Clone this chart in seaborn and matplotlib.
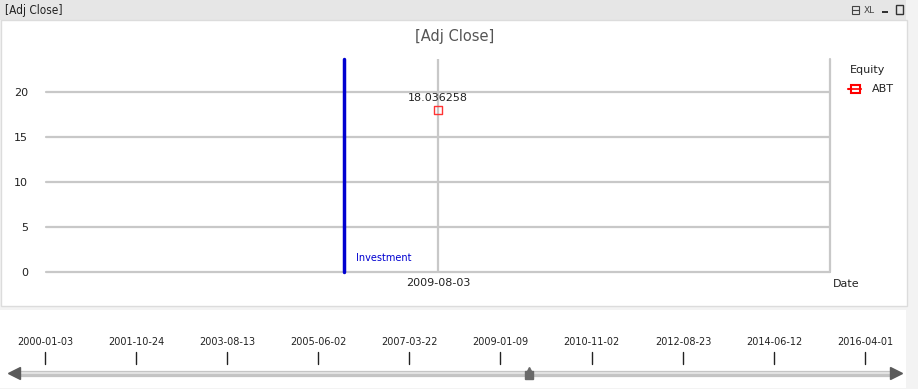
import matplotlib
matplotlib.use("Agg")
import matplotlib.pyplot as plt
import matplotlib.dates as mdates
from matplotlib.patches import Rectangle
import seaborn as sns
import pandas as pd
import numpy as np

# ---- data ----
dates = ["2009-08-03"]
adj_close = [18.036258]
equity = ["ABT"]
investment_label = "Investment"
y_ticks = [0, 5, 10, 15, 20]
slider_ticks = ["2000-01-03", "2001-10-24", "2003-08-13", "2005-06-02", "2007-03-22",
                "2009-01-09", "2010-11-02", "2012-08-23", "2014-06-12", "2016-04-01"]

sns.set_theme(style="white")
plt.rcParams['font.family'] = ['DejaVu Sans']

W, H = 918, 389
fig = plt.figure(figsize=(W / 100, H / 100), dpi=100)
fig.patch.set_facecolor("#f3f3f3")

def fx(px):
    return px / W

def fy(py):
    return 1 - py / H

# background panels (drawn behind axes)
bg = fig.add_axes([0, 0, 1, 1], zorder=-10)
bg.set_xlim(0, W)
bg.set_ylim(H, 0)
bg.axis("off")
bg.add_patch(Rectangle((0, 0), 906, 20, facecolor="#e6e6e6", edgecolor="none"))
bg.add_patch(Rectangle((0.5, 20), 906, 286, facecolor="white", edgecolor="#dcdcdc", lw=1))
bg.add_patch(Rectangle((0, 310), 906, 78, facecolor="white", edgecolor="none"))
bg.text(5, 10, "[Adj Close]", fontsize=8.5, color="#222222", va="center", ha="left",
        fontstretch="condensed")
# window icons
bg.add_patch(Rectangle((852, 6), 7, 8, facecolor="none", edgecolor="#444444", lw=0.8))
bg.plot([852, 859], [10, 10], color="#444444", lw=0.8)
bg.text(864, 10, "XL", fontsize=6.5, color="#444444", va="center", ha="left")
bg.add_patch(Rectangle((882, 11), 6, 2, facecolor="#333333", edgecolor="none"))
bg.add_patch(Rectangle((896, 5), 7, 9, facecolor="none", edgecolor="#333333", lw=1))
bg.text(455, 36, "[Adj Close]", fontsize=10.5, color="#555555", ha="center", va="center")

# legend / labels
bg.text(846, 284, "Date", fontsize=8, color="#222222", ha="center", va="center")
bg.text(850, 70, "Equity", fontsize=8, color="#222222", ha="left", va="center")
bg.plot([848, 861], [89, 89], color="red", lw=1.5)
bg.add_patch(Rectangle((851, 85), 9, 8, facecolor="white", edgecolor="red", lw=1.5, zorder=3))
bg.plot([851, 860], [89, 89], color="red", lw=1.2, zorder=4)
bg.text(872, 89, equity[0], fontsize=8, color="#222222", ha="left", va="center")

# ---- main axes ----
left, right, top, bottom = 46, 830, 59, 272
ax = fig.add_axes([fx(left), fy(bottom), fx(right - left), (bottom - top) / H], zorder=2)
ax.set_facecolor("none")
ymax = 23.67
df = pd.DataFrame({"Date": dates, "Adj Close": adj_close, "Equity": equity})

for t in y_ticks:
    ax.axhline(t, color="#c8c8c8", lw=1.6, zorder=1, clip_on=False)
ax.axvline(0, color="#c8c8c8", lw=1.6, zorder=1)
ax.axvline(0.5, color="#c8c8c8", lw=1.6, zorder=1, clip_on=False)

sns.scatterplot(data=df, x="Date", y="Adj Close", hue="Equity", palette=["red"],
                marker="s", s=36, linewidth=1, ax=ax, legend=False, zorder=3)
for c in ax.collections:
    c.set_facecolor("none")
    c.set_edgecolor("#ff3333")

for v in adj_close:
    ax.annotate(f"{v:.6f}", (0, v), xytext=(0, 5), textcoords="offset points",
                ha="center", va="bottom", fontsize=8, color="#222222")

inv_x = -0.12
ax.axvline(inv_x, color="#0000d0", lw=2.5, zorder=4, clip_on=False)
ax.text(inv_x + 0.015, 1.6, investment_label, color="#0000d0", fontsize=7, ha="left", va="center")

ax.set_xlim(-0.5, 0.5)
ax.set_ylim(0, ymax)
ax.set_yticks(y_ticks)
ax.set_yticklabels([str(t) for t in y_ticks], fontsize=8, color="#222222")
ax.tick_params(axis="y", length=0, pad=13)
ax.tick_params(axis="x", length=0, pad=4, labelsize=8, labelcolor="#222222")
ax.set_xlabel("")
ax.set_ylabel("")
for s in ax.spines.values():
    s.set_visible(False)

# ---- slider axes ----
tick_nums = mdates.datestr2num(slider_ticks)
px_first, px_last = 45, 865
dpp = (tick_nums[-1] - tick_nums[0]) / (px_last - px_first)
x0 = tick_nums[0] - px_first * dpp
x1 = tick_nums[0] + (W - px_first) * dpp
sax = fig.add_axes([0, fy(388), 1, 58 / H], zorder=2)
sax.set_facecolor("none")
sax.set_xlim(x0, x1)
sax.set_ylim(388, 330)
sax.axis("off")
for n, lab in zip(tick_nums, slider_ticks):
    sax.plot([n, n], [352, 364], color="#222222", lw=1)
    sax.text(n, 342, lab, ha="center", va="center", fontsize=7, color="#222222")
bar_l = x0 + 20 * dpp
bar_r = x0 + 890 * dpp
sax.plot([bar_l, bar_r], [373.5, 373.5], color="#c4c4c4", lw=4.5, solid_capstyle="round")
sax.plot([bar_l, bar_r], [372.5, 372.5], color="#e2e2e2", lw=1.5)
sax.plot([x0 + 14 * dpp], [373], marker="<", color="#5a5a5a", markersize=9)
sax.plot([x0 + 896 * dpp], [373], marker=">", color="#5a5a5a", markersize=9)
thumb = mdates.datestr2num(dates[0])
sax.plot([thumb], [375], marker="s", color="#6a6a6a", markersize=6)
sax.plot([thumb], [370], marker="^", color="#6a6a6a", markersize=5)

fig.savefig("out.png", dpi=100, facecolor=fig.get_facecolor())
